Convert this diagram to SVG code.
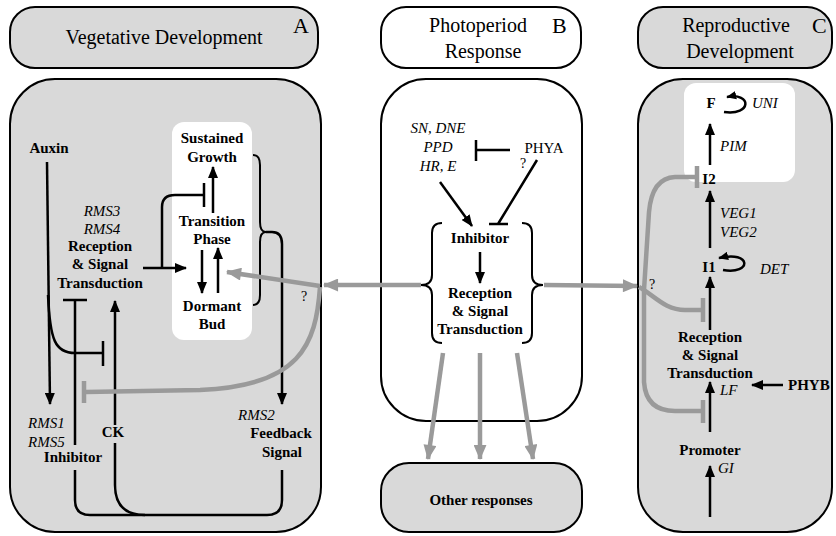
<svg xmlns="http://www.w3.org/2000/svg" width="836" height="536" viewBox="0 0 836 536" font-family="Liberation Serif">
<style>
text{font-family:"Liberation Serif",serif;fill:#000}
.bx{stroke:#000;stroke-width:2}
.g{fill:#d9d9d9}
.w{fill:#fff}
.ib{fill:#fff;stroke:none}
.h{font-size:20px;text-anchor:middle}
.L{font-size:22px}
.b{font-size:15px;font-weight:bold;text-anchor:middle}
.bs{font-size:15px;font-weight:bold}
.i{font-size:15px;font-style:italic}
.im{font-size:15px;font-style:italic;text-anchor:middle}
.r{font-size:15px;text-anchor:middle}
.q{font-size:14px}
.ln{stroke:#000;stroke-width:2.5;fill:none}
.th{stroke-width:2}
.gb{stroke:#9a9a9a;stroke-width:4.5;fill:none}
</style>
<defs>
<marker id="ab" markerUnits="userSpaceOnUse" viewBox="0 0 12 10" markerWidth="12" markerHeight="10" refX="11" refY="5" orient="auto"><path d="M0,0 L12,5 L0,10 Z" fill="#000"/></marker>
<marker id="as" markerUnits="userSpaceOnUse" viewBox="0 0 12 10" markerWidth="10" markerHeight="9" refX="11" refY="5" orient="auto"><path d="M0,0 L12,5 L0,10 Z" fill="#000"/></marker>
<marker id="ag" markerUnits="userSpaceOnUse" viewBox="0 0 14 12" markerWidth="16" markerHeight="13" refX="13" refY="6" orient="auto"><path d="M0,0 L14,6 L0,12 Z" fill="#9a9a9a"/></marker>
</defs>

<g id="panelA-header">
<rect class="bx g" x="10" y="7" width="308" height="61" rx="25"/>
<text class="h" x="164" y="44">Vegetative Development</text>
<text class="L" x="293" y="33">A</text>
</g>
<g id="panelB-header">
<rect class="bx w" x="381" y="7" width="200" height="61" rx="25"/>
<text class="h" x="478" y="32">Photoperiod</text>
<text class="h" x="483" y="58">Response</text>
<text class="L" x="552" y="33">B</text>
</g>
<g id="panelC-header">
<rect class="bx g" x="638" y="7" width="194" height="61" rx="25"/>
<text class="h" x="736" y="32">Reproductive</text>
<text class="h" x="740" y="58">Development</text>
<text class="L" x="812" y="33">C</text>
</g>

<g id="panelA">
<rect class="bx g" x="10" y="79" width="311" height="453" rx="45"/>
<rect class="ib" x="172" y="122" width="80" height="218" rx="12"/>
</g>
<g id="panelB">
<rect class="bx w" x="381" y="79" width="201" height="342" rx="45"/>
</g>
<g id="panelC">
<rect class="bx g" x="638" y="79" width="194" height="453" rx="45"/>
<rect class="ib" x="684" y="83" width="111" height="99" rx="12"/>
</g>
<g id="other-responses">
<rect class="bx g" x="381" y="463" width="201" height="69" rx="28"/>
<text class="b" x="481" y="505">Other responses</text>
</g>

<g id="auxin"><text class="b" x="49" y="153">Auxin</text></g>
<g id="sustained-growth"><text class="b" x="212" y="143">Sustained</text><text class="b" x="212" y="162">Growth</text></g>
<g id="transition-phase"><text class="b" x="212" y="226">Transition</text><text class="b" x="212" y="244">Phase</text></g>
<g id="dormant-bud"><text class="b" x="212" y="311">Dormant</text><text class="b" x="212" y="329">Bud</text></g>
<g id="reception-A">
<text class="im" x="102" y="216">RMS3</text><text class="im" x="102" y="234">RMS4</text>
<text class="b" x="100" y="251">Reception</text><text class="b" x="100" y="269">&amp; Signal</text><text class="b" x="100" y="288">Transduction</text>
</g>
<g id="inhibitor-A"><text class="i" x="28" y="428">RMS1</text><text class="i" x="28" y="447">RMS5</text><text class="b" x="73" y="462">Inhibitor</text></g>
<g id="ck"><text class="b" x="113" y="437">CK</text></g>
<g id="feedback"><text class="i" x="238" y="420">RMS2</text><text class="b" x="281" y="438">Feedback</text><text class="b" x="282" y="457">Signal</text></g>

<g id="genes-B"><text class="im" x="438" y="133">SN, DNE</text><text class="im" x="438" y="152">PPD</text><text class="im" x="438" y="171">HR, E</text></g>
<g id="phya"><text class="r" x="544" y="153">PHYA</text></g>
<g id="inhibitor-B"><text class="b" x="480" y="243">Inhibitor</text></g>
<g id="reception-B"><text class="b" x="480" y="298">Reception</text><text class="b" x="480" y="316">&amp; Signal</text><text class="b" x="480" y="334">Transduction</text></g>

<g id="F"><text class="b" x="711" y="108">F</text><text class="i" x="752" y="108">UNI</text></g>
<g id="I2"><text class="b" x="709" y="184">I2</text></g>
<g id="I1"><text class="b" x="709" y="272">I1</text><text class="i" x="760" y="274">DET</text></g>
<g id="reception-C"><text class="b" x="710" y="342">Reception</text><text class="b" x="710" y="360">&amp; Signal</text><text class="b" x="710" y="378">Transduction</text></g>
<g id="phyb"><text class="bs" x="788" y="390">PHYB</text></g>
<g id="promoter"><text class="b" x="710" y="455">Promoter</text></g>

<g id="connectors">
<path class="ln" d="M47,162 L50,404" marker-end="url(#ab)"/>
<path class="ln" d="M48,295 C50,340 55,353 75,353 L103,353"/>
<path class="ln" d="M103,341 L103,366"/>
<path class="ln" d="M75,445 L75,300 M63,300 L87,300"/>
<path class="ln" d="M115,425 L115,301" marker-end="url(#ab)"/>
<path class="ln" d="M75,470 L75,500 Q75,515 90,515 L267,515 Q282,515 282,500 L282,470"/>
<path class="ln" d="M115,443 L115,485 Q115,515 145,515"/>
<path class="ln" d="M143,268 L186,268" marker-end="url(#ab)"/>
<path class="ln" d="M162,268 L162,207 Q162,195 175,195 L204,195 M204,183 L204,207"/>
<path class="ln" d="M213,213 L213,167" marker-end="url(#ab)"/>
<path class="ln" d="M202,250 L202,293" marker-end="url(#ab)"/>
<path class="ln" d="M218,293 L218,248" marker-end="url(#ab)"/>
<path class="ln th" d="M253,155 Q260,155 260,165 L260,222 Q260,232 266,232 Q260,232 260,242 L260,295 Q260,305 253,305"/>
<path class="ln" d="M266,232 L272,232 Q282,232 282,244 L282,404" marker-end="url(#ab)"/>
<path class="gb" d="M421,285 L324,285" marker-end="url(#ag)"/>
<path class="gb" d="M320,286 L227,272" marker-end="url(#ag)"/>
<path class="gb" d="M320,287 C316,345 300,386 200,390 L86,392"/>
<path class="gb" d="M84,381 L84,403"/>
<text class="q" x="301" y="301">?</text>
<path class="ln" d="M510,150 L476,150 M476,140 L476,161"/>
<path class="ln" d="M440,182 L472,226" marker-end="url(#ab)"/>
<path class="ln" d="M537,160 L498,224 M489,224 L508,224"/>
<text class="q" x="520" y="168">?</text>
<path class="ln" d="M480,252 L480,283" marker-end="url(#ab)"/>
<path class="ln th" d="M442,223 Q432,223 432,233 L432,275 Q432,285 421,285 Q432,285 432,295 L432,333 Q432,343 442,343"/>
<path class="ln th" d="M522,223 Q532,223 532,233 L532,275 Q532,285 543,285 Q532,285 532,295 L532,333 Q532,343 522,343"/>
<path class="gb" d="M544,285 L637,286" marker-end="url(#ag)"/>
<path class="gb" d="M443,353 L428,459" marker-end="url(#ag)"/>
<path class="gb" d="M480,353 L480,459" marker-end="url(#ag)"/>
<path class="gb" d="M517,353 L533,459" marker-end="url(#ag)"/>
<path class="gb" d="M697,177 L675,177 Q652,178 649,212 L644,290 L644,382 Q646,411 675,411 L703,411"/>
<path class="gb" d="M703,400 L703,423"/>
<path class="gb" d="M697,166 L697,188"/>
<path class="gb" d="M639,287 C655,296 665,310 685,310 L703,310"/>
<path class="gb" d="M703,298 L703,322"/>
<text class="q" x="649" y="289">?</text>
<path class="ln" d="M710,165 L710,124" marker-end="url(#ab)"/>
<text class="i" x="720" y="151">PIM</text>
<path class="ln" d="M724,112 C752,116 752,92 727,97" marker-end="url(#as)"/>
<path class="ln" d="M710,248 L710,191" marker-end="url(#ab)"/>
<text class="i" x="720" y="218">VEG1</text>
<text class="i" x="720" y="237">VEG2</text>
<path class="ln" d="M723,270 C752,275 752,250 719,258" marker-end="url(#as)"/>
<path class="ln" d="M710,330 L710,277" marker-end="url(#ab)"/>
<path class="ln" d="M783,385 L752,385" marker-end="url(#ab)"/>
<path class="ln" d="M710,432 L710,382" marker-end="url(#ab)"/>
<text class="i" x="720" y="395">LF</text>
<path class="ln" d="M710,517 L710,466" marker-end="url(#ab)"/>
<text class="i" x="718" y="473">GI</text>
</g>
</svg>
